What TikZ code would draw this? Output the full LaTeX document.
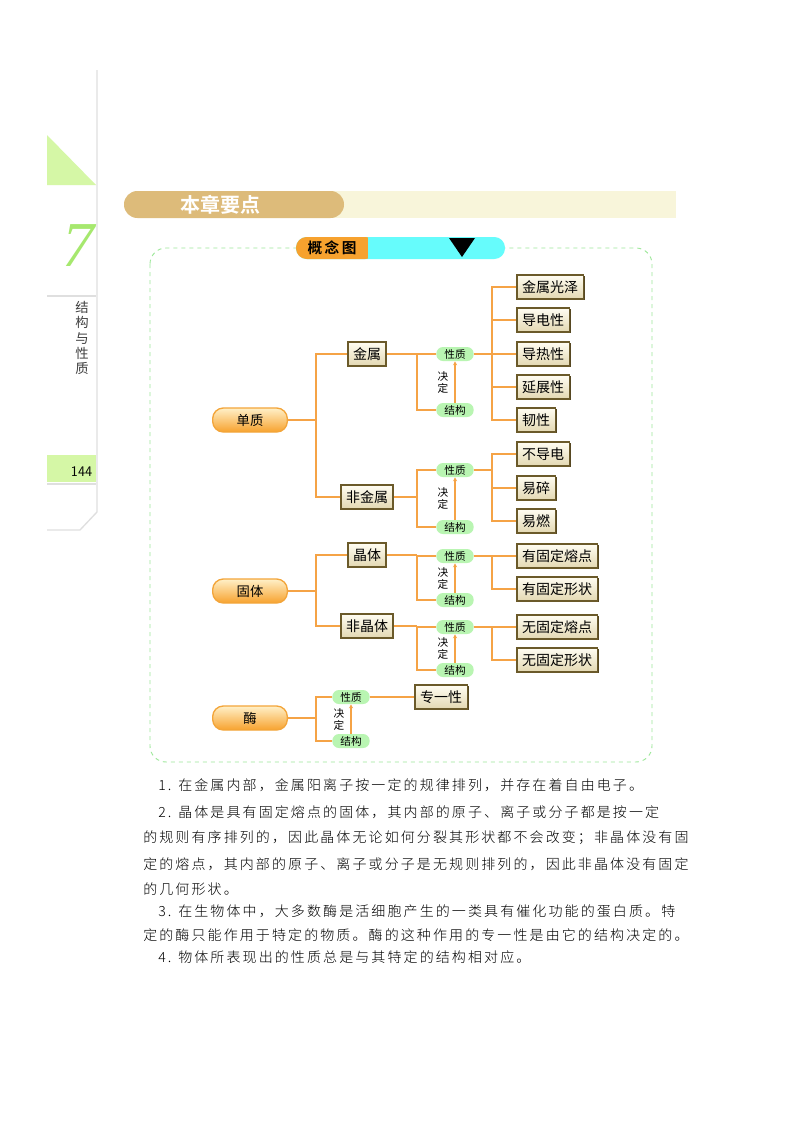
\documentclass[tikz,border=0pt]{standalone}
\usepackage{fontspec}
\setmainfont{Noto Sans CJK SC}
\newfontfamily\cjk{Noto Sans CJK SC}
\newfontfamily\cjkb{Noto Sans CJK SC Bold}
\newfontfamily\bodyf[LetterSpace=15]{Noto Sans CJK SC Light}
\newfontfamily\sevenf{Liberation Serif}
\usetikzlibrary{shadows,arrows.meta}
\definecolor{lineo}{HTML}{F5A346}
\definecolor{boxd}{HTML}{6B5A2A}
\definecolor{boxf}{HTML}{FFFDF2}
\definecolor{boxs}{HTML}{E3D8B2}
\definecolor{pilld}{HTML}{F3A53A}
\definecolor{pillt}{HTML}{FFF0C8}
\definecolor{pillb}{HTML}{F7A22E}
\definecolor{gpill}{HTML}{B9F5B2}
\definecolor{cyanb}{HTML}{66FCFC}
\definecolor{tanb}{HTML}{DDBB7A}
\definecolor{creamb}{HTML}{F8F5DA}
\definecolor{gacc}{HTML}{D5F7A6}
\definecolor{seven}{HTML}{A6E86E}
\definecolor{dashg}{HTML}{9EE89A}
\tikzset{
  cbox/.style={draw=boxd,line width=1.3pt,top color=boxf,bottom color=boxs,
    minimum height=18pt,inner xsep=4pt,font=\cjk\fontsize{10.5pt}{10.5pt}\selectfont,
    drop shadow={shadow xshift=0.8pt,shadow yshift=-0.8pt,fill=boxd!80!black,opacity=1}},
  opill/.style={draw=pilld,line width=1pt,top color=pillt,bottom color=pillb,rounded corners=8pt,
    minimum width=56pt,minimum height=18pt,font=\cjk\fontsize{10pt}{10pt}\selectfont},
  gp/.style={fill=gpill,rounded corners=5pt,minimum width=28pt,minimum height=10.5pt,inner sep=0pt,
    font=\cjk\fontsize{8pt}{8pt}\selectfont},
  jd/.style={font=\cjk\fontsize{8pt}{9pt}\selectfont,align=center,inner sep=0pt},
  ln/.style={draw=lineo,line width=0.8pt},
  ar/.style={draw=lineo,line width=0.8pt,-{Stealth[length=3pt,width=3pt]}},
  body/.style={anchor=west,inner sep=0pt,font=\bodyf\fontsize{10.5pt}{10.5pt}\selectfont}
}
\begin{document}
\begin{tikzpicture}[x=0.75pt,y=-0.75pt]
\useasboundingbox (0,0) rectangle (800,1132);
\fill[white] (0,0) rectangle (800,1132);
% left margin
\draw[gray!25,line width=1pt] (97,70) -- (97,512) -- (80,530) -- (47,530);
\fill[gacc] (47,135) -- (47,185) -- (96,185) -- cycle;
\node[font=\sevenf\itshape\fontsize{48pt}{48pt}\selectfont,text=seven] (seven) at (78,246) {7};
\draw[gray!25,line width=0.8pt] (47,296) -- (96,296);
\node[font=\cjk\fontsize{10pt}{11.5pt}\selectfont,align=center,text=black!75,inner sep=0pt] (vt) at (82,338) {结\\构\\与\\性\\质};
\fill[gacc] (47,455) rectangle (96,482);
\node[anchor=east,font=\fontsize{11pt}{11pt}\selectfont\sffamily,inner sep=1pt] (pg) at (94,472) {144};
\draw[gray!25,line width=0.8pt] (47,484) -- (96,484);
% header
\fill[creamb] (330,191) rectangle (676,218);
\fill[tanb,rounded corners=10pt] (124,191) rectangle (344,218);
\node[text=white,font=\cjkb\fontsize{15pt}{15pt}\selectfont] (hd) at (220,205) {本章要点};
% dashed frame
\draw[dashg,dashed,line width=0.7pt,rounded corners=12pt] (150,248) rectangle (652,762);
% concept pill
\fill[cyanb,rounded corners=8pt] (296,237) rectangle (505,259);
\fill[pillb,rounded corners=8pt] (296,237) rectangle (376,259);
\fill[cyanb] (368,237) rectangle (380,259);
\node[font=\cjkb\fontsize{11pt}{11pt}\selectfont] (gnt) at (332,248) {概\,念\,图};
\fill[black] (449,238) -- (475,238) -- (462,257) -- cycle;
% level 1
\node[opill] (dz) at (250,420) {单质};
\node[opill] (gt) at (250,591) {固体};
\node[opill] (mei) at (250,718) {酶};
% level 2
\node[cbox] (js) at (367,354) {金属};
\node[cbox] (fjs) at (367,497) {非金属};
\node[cbox] (jt) at (367,555) {晶体};
\node[cbox] (fjt) at (367,626) {非晶体};
% green pills
\node[gp] (xz1) at (455,354) {性质}; \node[gp] (jg1) at (455,410) {结构};
\node[gp] (xz2) at (455,470) {性质}; \node[gp] (jg2) at (455,527) {结构};
\node[gp] (xz3) at (455,556) {性质}; \node[gp] (jg3) at (455,600) {结构};
\node[gp] (xz4) at (455,627) {性质}; \node[gp] (jg4) at (455,670) {结构};
\node[gp] (xz5) at (351,697) {性质}; \node[gp] (jg5) at (351,741) {结构};
\node[jd] (jd1) at (443,382) {决\\定};
\node[jd] (jd2) at (443,498) {决\\定};
\node[jd] (jd3) at (443,578) {决\\定};
\node[jd] (jd4) at (443,648) {决\\定};
\node[jd] (jd5) at (339,719) {决\\定};
% right boxes
\tikzset{rb/.style={cbox,anchor=west}}
\node[rb] (r1) at (516,287) {金属光泽};
\node[rb] (r2) at (516,320) {导电性};
\node[rb] (r3) at (516,354) {导热性};
\node[rb] (r4) at (516,387) {延展性};
\node[rb] (r5) at (516,420) {韧性};
\node[rb] (r6) at (516,454) {不导电};
\node[rb] (r7) at (516,488) {易碎};
\node[rb] (r8) at (516,521) {易燃};
\node[rb] (r9) at (516,556) {有固定熔点};
\node[rb] (r10) at (516,589) {有固定形状};
\node[rb] (r11) at (516,627) {无固定熔点};
\node[rb] (r12) at (516,660) {无固定形状};
\node[rb] (r13) at (414,697) {专一性};
% connectors level1 -> level2
\draw[ln] (dz.east) -- (316,420);
\draw[ln] (js.west) -| (316,420) |- (fjs.west);
\draw[ln] (gt.east) -- (316,591);
\draw[ln] (jt.west) -| (316,591) |- (fjt.west);
\draw[ln] (mei.east) -- (316,718);
\draw[ln] (xz5.west) -| (316,718) |- (jg5.west);
% level2 -> pills
\foreach \a/\x/\j in {js/xz1/jg1,fjs/xz2/jg2,jt/xz3/jg3,fjt/xz4/jg4}{
  \draw[ln] (\a.east) -- (\a.east -| 417,0);
  \draw[ln] (\x.west) -| (417,0 |- \x.west) -- (417,0 |- \j.west) -- (\j.west);
}
\foreach \n in {1,...,5}{ \draw[ar] (jg\n.north) -- (xz\n.south); }
% pills -> right boxes
\draw[ln] (xz1.east) -- (r3.west);
\foreach \r in {r1,r2,r4,r5}{ \draw[ln] (492,354) |- (\r.west); }
\draw[ln] (xz2.east) -- (492,470);
\foreach \r in {r6,r7,r8}{ \draw[ln] (492,470) |- (\r.west); }
\draw[ln] (xz3.east) -- (r9.west);
\draw[ln] (492,556) |- (r10.west);
\draw[ln] (xz4.east) -- (r11.west);
\draw[ln] (492,627) |- (r12.west);
\draw[ln] (xz5.east) -- (r13.west);
% body text
\node[body] (t1) at (158,785) {1. 在金属内部，金属阳离子按一定的规律排列，并存在着自由电子。};
\node[body] (t2) at (158,812) {2. 晶体是具有固定熔点的固体，其内部的原子、离子或分子都是按一定};
\node[body] (t3) at (143,838) {的规则有序排列的，因此晶体无论如何分裂其形状都不会改变；非晶体没有固};
\node[body] (t4) at (143,864) {定的熔点，其内部的原子、离子或分子是无规则排列的，因此非晶体没有固定};
\node[body] (t5) at (143,889) {的几何形状。};
\node[body] (t6) at (158,911) {3. 在生物体中，大多数酶是活细胞产生的一类具有催化功能的蛋白质。特};
\node[body] (t7) at (143,935) {定的酶只能作用于特定的物质。酶的这种作用的专一性是由它的结构决定的。};
\node[body] (t8) at (158,957) {4. 物体所表现出的性质总是与其特定的结构相对应。};
\end{tikzpicture}
\end{document}
